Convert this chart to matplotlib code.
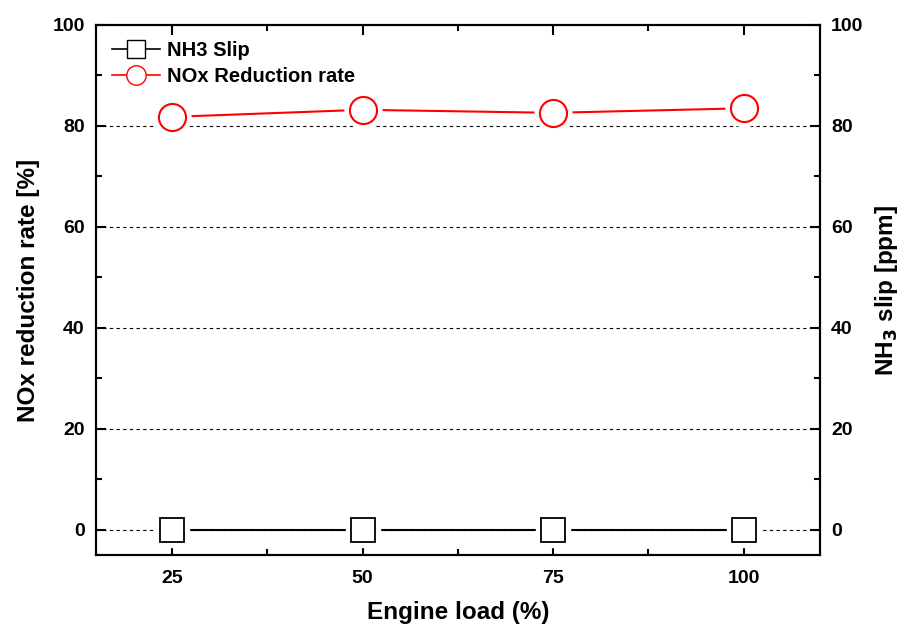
import numpy as np
import matplotlib.pyplot as plt
from matplotlib.ticker import MultipleLocator

plt.rcParams['font.family'] = ['Liberation Sans', 'DejaVu Sans']
plt.rcParams['font.weight'] = 'bold'

load = [25, 50, 75, 100]
nox_rate = [81.8, 83.2, 82.6, 83.5]
nh3_slip = [0, 0, 0, 0]

fig = plt.figure(figsize=(9.07, 6.31), dpi=100)
ax = fig.add_axes([0.1058, 0.1204, 0.7982, 0.84])
ax2 = ax.twinx()

for y in [0, 20, 40, 60, 80]:
    ax.axhline(y, color='black', lw=0.8, ls=(0, (3, 3)), zorder=0)

# lines with a small gap around markers
ax.plot(load, nh3_slip, color='black', lw=1.5, zorder=2)
ax.plot(load, nh3_slip, ls='none', marker='s', ms=24, mfc='white', mec='white', zorder=3)
ax.plot(load, nh3_slip, ls='none', marker='s', ms=17.5, mfc='white', mec='black', mew=1.3, zorder=4)
ax.plot(load, nox_rate, color='red', lw=1.5, zorder=2)
ax.plot(load, nox_rate, ls='none', marker='o', ms=26.5, mfc='white', mec='white', zorder=3)
ax.plot(load, nox_rate, ls='none', marker='o', ms=19.5, mfc='white', mec='red', mew=1.5, zorder=4)

h1, = ax.plot([], [], color='black', lw=1.2, marker='s', ms=13, mfc='white', mec='black')
h2, = ax.plot([], [], color='red', lw=1.2, marker='o', ms=14, mfc='white', mec='red')
leg = ax.legend([h1, h2], ['NH3 Slip', 'NOx Reduction rate'], loc='upper left',
                frameon=False, fontsize=14.5, handlelength=2.4, borderaxespad=0.4,
                labelspacing=0.35, handletextpad=0.35, bbox_to_anchor=(0.0, 1.0))

ax.set_xlim(15, 110)
ax.set_ylim(-5, 100)
ax2.set_ylim(-5, 100)
ax.set_xticks(load)
ax.xaxis.set_minor_locator(MultipleLocator(12.5))
ax.yaxis.set_major_locator(MultipleLocator(20))
ax.yaxis.set_minor_locator(MultipleLocator(10))
ax2.yaxis.set_major_locator(MultipleLocator(20))
ax2.yaxis.set_minor_locator(MultipleLocator(10))

ax.tick_params(which='both', direction='in', top=True, width=1.5, labelsize=14)
ax.tick_params(axis='y', pad=8)
ax.tick_params(axis='x', pad=11)
ax.tick_params(which='major', length=7)
ax.tick_params(which='minor', length=4)
ax2.tick_params(which='both', direction='in', width=1.5, labelsize=14, pad=8)
ax2.tick_params(which='major', length=7)
ax2.tick_params(which='minor', length=4)
for a in (ax, ax2):
    for s in a.spines.values():
        s.set_linewidth(1.5)

ax.set_xlabel('Engine load (%)', fontsize=17.5, fontweight='bold', labelpad=10)
ax.set_ylabel('NOx reduction rate [%]', fontsize=17.5, fontweight='bold', labelpad=9)
ax2.set_ylabel(r'NH$_\mathbf{3}$ slip [ppm]', fontsize=17.5, fontweight='bold', labelpad=7)

fig.savefig('out.png', dpi=100)
